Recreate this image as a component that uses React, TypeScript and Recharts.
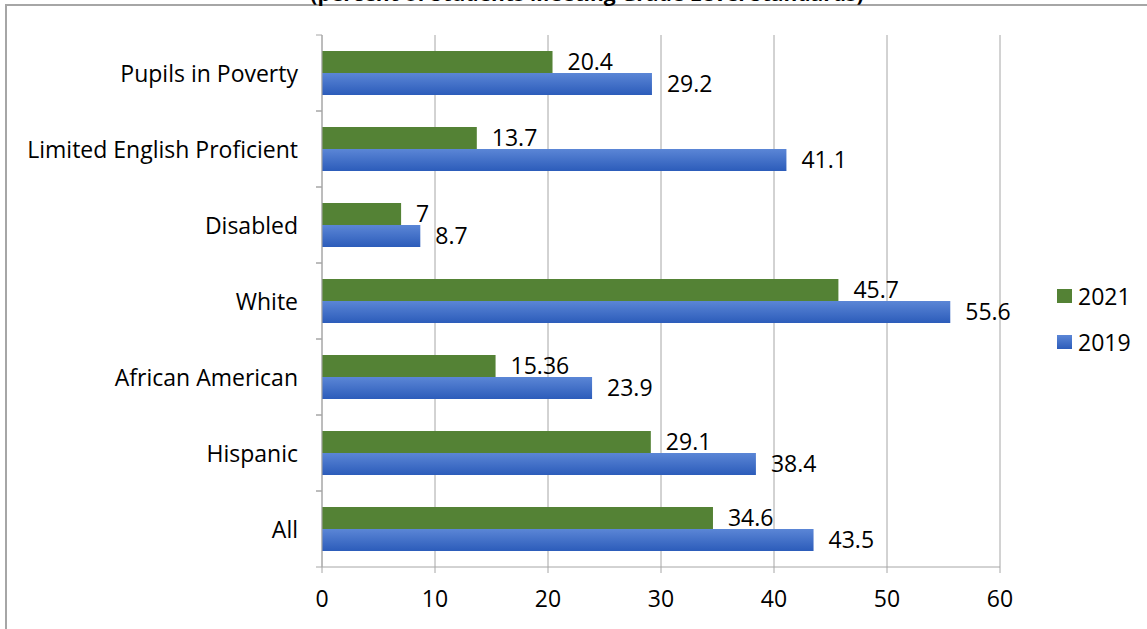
import { BarChart, Bar, XAxis, YAxis, CartesianGrid, LabelList } from "recharts";

const groups = [
  "Pupils in Poverty",
  "Limited English Proficient",
  "Disabled",
  "White ",
  "African American",
  "Hispanic",
  "All",
];
const scores2021 = [20.4, 13.7, 7, 45.7, 15.36, 29.1, 34.6];
const scores2019 = [29.2, 41.1, 8.7, 55.6, 23.9, 38.4, 43.5];
const xTicks = [0, 10, 20, 30, 40, 50, 60];

const data = groups.map((name, i) => ({
  name,
  y2021: scores2021[i],
  y2019: scores2019[i],
}));

const FONT = "'Open Sans', sans-serif";
const GREEN = "#548235";
const BLUE_TOP = "#5b86d6";
const BLUE_BOTTOM = "#2c5cba";
const GRID = "#a6a6a6";

const W = 1147;
const H = 629;
const MARGIN = { top: 35, right: 147, bottom: 0, left: 0 };
const Y_AXIS_W = 322;
const X_AXIS_H = 62;
const PLOT_H = H - MARGIN.top - MARGIN.bottom - X_AXIS_H;
const BAND = PLOT_H / groups.length;

// category label plus the small tick marks that sit on the band edges
const CategoryTick = (props: any) => {
  const { x, y, payload } = props;
  const axisX = MARGIN.left + Y_AXIS_W;
  return (
    <g>
      <line x1={axisX - 6} x2={axisX} y1={y - BAND / 2} y2={y - BAND / 2} stroke={GRID} />
      <line x1={axisX - 6} x2={axisX} y1={y + BAND / 2} y2={y + BAND / 2} stroke={GRID} />
      <text
        x={x}
        y={y}
        textAnchor="end"
        dominantBaseline="central"
        fontSize={23}
        fontFamily={FONT}
        fill="#000"
      >
        {payload.value}
      </text>
    </g>
  );
};

const legendItems = [
  { label: "2021", bg: GREEN },
  { label: "2019", bg: `linear-gradient(${BLUE_TOP}, ${BLUE_BOTTOM})` },
];

export default function App() {
  return (
    <div
      style={{
        position: "fixed",
        left: 0,
        top: 0,
        width: W,
        height: H,
        overflow: "hidden",
        background: "#fff",
      }}
    >
      {/* outer frame */}
      <div
        style={{
          position: "absolute",
          left: 5,
          top: 4,
          width: W + 20,
          height: H + 20,
          borderTop: `2px solid ${GRID}`,
          borderLeft: `2px solid ${GRID}`,
        }}
      />
      <div
        style={{
          position: "absolute",
          left: 0,
          top: -17,
          width: 1174,
          textAlign: "center",
          fontFamily: FONT,
          fontWeight: 700,
          fontSize: 21,
          lineHeight: "20px",
          whiteSpace: "nowrap",
        }}
      >
        (percent of Students Meeting Grade Level Standards)
      </div>
      <div style={{ position: "absolute", left: 0, top: 0 }}>
        <BarChart
          width={W}
          height={H}
          data={data}
          layout="vertical"
          margin={MARGIN}
          barSize={22}
          barGap={0}
        >
          <defs>
            <linearGradient id="blueFill" x1="0" y1="0" x2="0" y2="1">
              <stop offset="0%" stopColor={BLUE_TOP} />
              <stop offset="100%" stopColor={BLUE_BOTTOM} />
            </linearGradient>
          </defs>
          <CartesianGrid horizontal={false} stroke={GRID} />
          <XAxis
            type="number"
            domain={[0, 60]}
            ticks={xTicks}
            height={X_AXIS_H}
            stroke={GRID}
            tickSize={6}
            tickMargin={18}
            tick={{ fill: "#000", fontSize: 23, fontFamily: FONT }}
          />
          <YAxis
            type="category"
            dataKey="name"
            width={Y_AXIS_W}
            stroke={GRID}
            tickLine={false}
            tickSize={0}
            tickMargin={24}
            tick={<CategoryTick />}
            interval={0}
          />
          <Bar dataKey="y2021" name="2021" fill={GREEN} isAnimationActive={false}>
            <LabelList
              dataKey="y2021"
              position="right"
              offset={15}
              fill="#000"
              fontSize={23}
              fontFamily={FONT}
            />
          </Bar>
          <Bar dataKey="y2019" name="2019" fill="url(#blueFill)" isAnimationActive={false}>
            <LabelList
              dataKey="y2019"
              position="right"
              offset={15}
              fill="#000"
              fontSize={23}
              fontFamily={FONT}
            />
          </Bar>
        </BarChart>
      </div>
      {/* legend */}
      <div
        style={{
          position: "absolute",
          left: 1057,
          top: 273,
          fontFamily: FONT,
          fontSize: 23,
          color: "#000",
        }}
      >
        {legendItems.map((item) => (
          <div key={item.label} style={{ display: "flex", alignItems: "center", height: 46 }}>
            <div style={{ width: 15, height: 14, background: item.bg, marginRight: 6 }} />
            <span>{item.label}</span>
          </div>
        ))}
      </div>
    </div>
  );
}
